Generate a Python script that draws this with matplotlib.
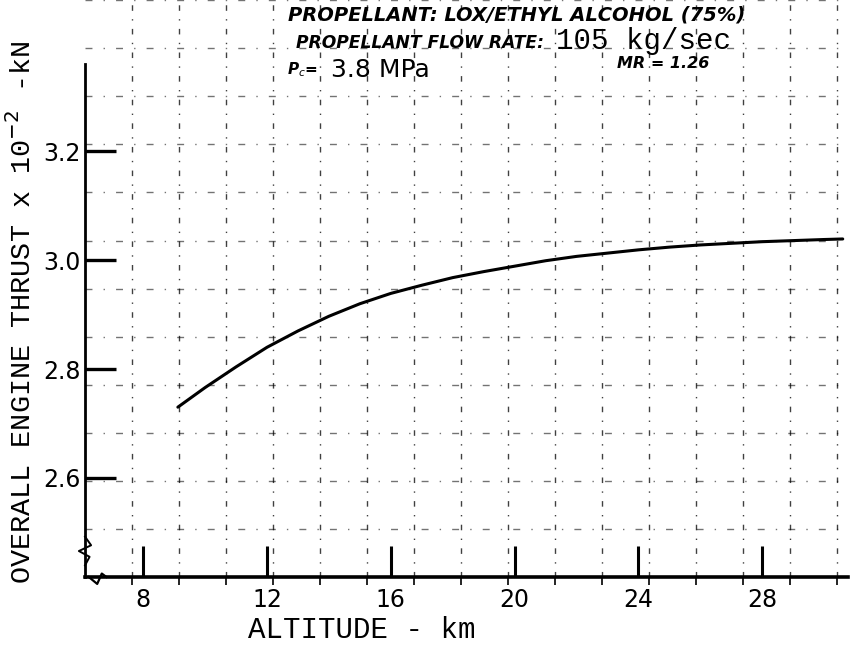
import numpy as np
import matplotlib
matplotlib.use("Agg")
import matplotlib.pyplot as plt

# ---- data ----
altitude_km = [9.12, 10.0, 11.0, 12.0, 13.0, 14.0, 15.0, 16.0, 17.0, 18.0, 19.0,
               20.0, 21.0, 22.0, 23.0, 24.0, 25.0, 26.0, 27.0, 28.0, 29.0,
               30.0, 30.6]
thrust = [2.730, 2.766, 2.804, 2.840, 2.870, 2.897, 2.920, 2.939, 2.954, 2.968,
          2.979, 2.989, 2.999, 3.007, 3.013, 3.019, 3.024, 3.028, 3.031, 3.034,
          3.036, 3.038, 3.039]
x_ticks = [8, 12, 16, 20, 24, 28]
x_tick_labels = ["8", "12", "16", "20", "24", "28"]
y_ticks = [2.6, 2.8, 3.0, 3.2]
y_tick_labels = ["2.6", "2.8", "3.0", "3.2"]

XMIN, XMAX = 6.12, 30.77
YMIN, YMAX = 2.418, 3.478

fig = plt.figure(figsize=(8.54, 6.54), dpi=100)
ax = fig.add_axes([85 / 854, 1 - 577 / 654, 763 / 854, 577 / 654])
ax.set_xlim(XMIN, XMAX)
ax.set_ylim(YMIN, YMAX)

# graph-paper grid (dashed, broken)
gx = np.arange(XMIN, XMAX + 0.01, 1.519)
gy = np.arange(YMIN, YMAX + 0.01, 0.0883)
for v in gx[1:]:
    ax.axvline(v, color="black", lw=1.0, ls=(0, (4, 6, 1, 6)), alpha=0.75, zorder=1)
for h in gy[1:]:
    ax.axhline(h, color="black", lw=1.0, ls=(0, (5, 8, 1, 8)), alpha=0.55, zorder=1)

# main curve
ax.plot(altitude_km, thrust, color="black", lw=2.2, zorder=3,
        solid_joinstyle="round", solid_capstyle="round")

# spines
for s in ["top", "right"]:
    ax.spines[s].set_visible(False)
ax.spines["left"].set_linewidth(2.0)
ax.spines["bottom"].set_linewidth(2.6)
ax.spines["left"].set_bounds(YMIN, 3.36)

# ticks
ax.set_xticks(x_ticks)
ax.set_xticklabels(x_tick_labels, family="DejaVu Sans", fontsize=17)
ax.set_xticks(gx[1:], minor=True)
ax.set_yticks(y_ticks)
ax.set_yticklabels(y_tick_labels, family="DejaVu Sans", fontsize=17)
ax.tick_params(axis="x", which="major", direction="in", length=22, width=2.2, pad=8)
ax.tick_params(axis="x", which="minor", direction="out", length=6, width=1.2)
ax.tick_params(axis="y", direction="in", length=22, width=2.4, pad=3)

# axis labels (typewriter style)
fig.text(22 / 854, 1 - 312 / 654, "OVERALL ENGINE THRUST x 10$^{-2}$ -kN",
         rotation=90, ha="center", va="center", family="Liberation Mono",
         fontsize=20.5)
fig.text(362 / 854, 1 - 630 / 654, "ALTITUDE - km", ha="center", va="center",
         family="Liberation Mono", fontsize=21)

# annotations (hand-lettered part in italics)
hand = dict(family="DejaVu Sans", style="italic", fontweight="bold",
            va="center", ha="left")
fig.text(288 / 854, 1 - 15 / 654, "PROPELLANT: LOX/ETHYL ALCOHOL (75%)",
         fontsize=14, **hand)
fig.text(296 / 854, 1 - 43 / 654, "PROPELLANT FLOW RATE:", fontsize=12.3, **hand)
fig.text(556 / 854, 1 - 41 / 654, "105 kg/sec", family="Liberation Mono",
         fontsize=21, va="center", ha="left")
fig.text(287 / 854, 1 - 70 / 654, "P$_c$=", fontsize=11, **hand)
fig.text(331 / 854, 1 - 70 / 654, "3.8 MPa", family="DejaVu Sans",
         fontsize=18, va="center", ha="left")
fig.text(617 / 854, 1 - 64 / 654, "MR = 1.26", fontsize=11.5, **hand)

# axis-break marks
ax.plot([0.0, 0.008, -0.008, 0.006, 0.0], [0.07, 0.055, 0.045, 0.035, 0.02],
        transform=ax.transAxes, color="black", lw=1.4, clip_on=False)
ax.plot([0.005, 0.016, 0.022, 0.028], [0.0, -0.012, 0.006, 0.0],
        transform=ax.transAxes, color="black", lw=1.6, clip_on=False)

fig.savefig("out.png", dpi=100, facecolor="white")
